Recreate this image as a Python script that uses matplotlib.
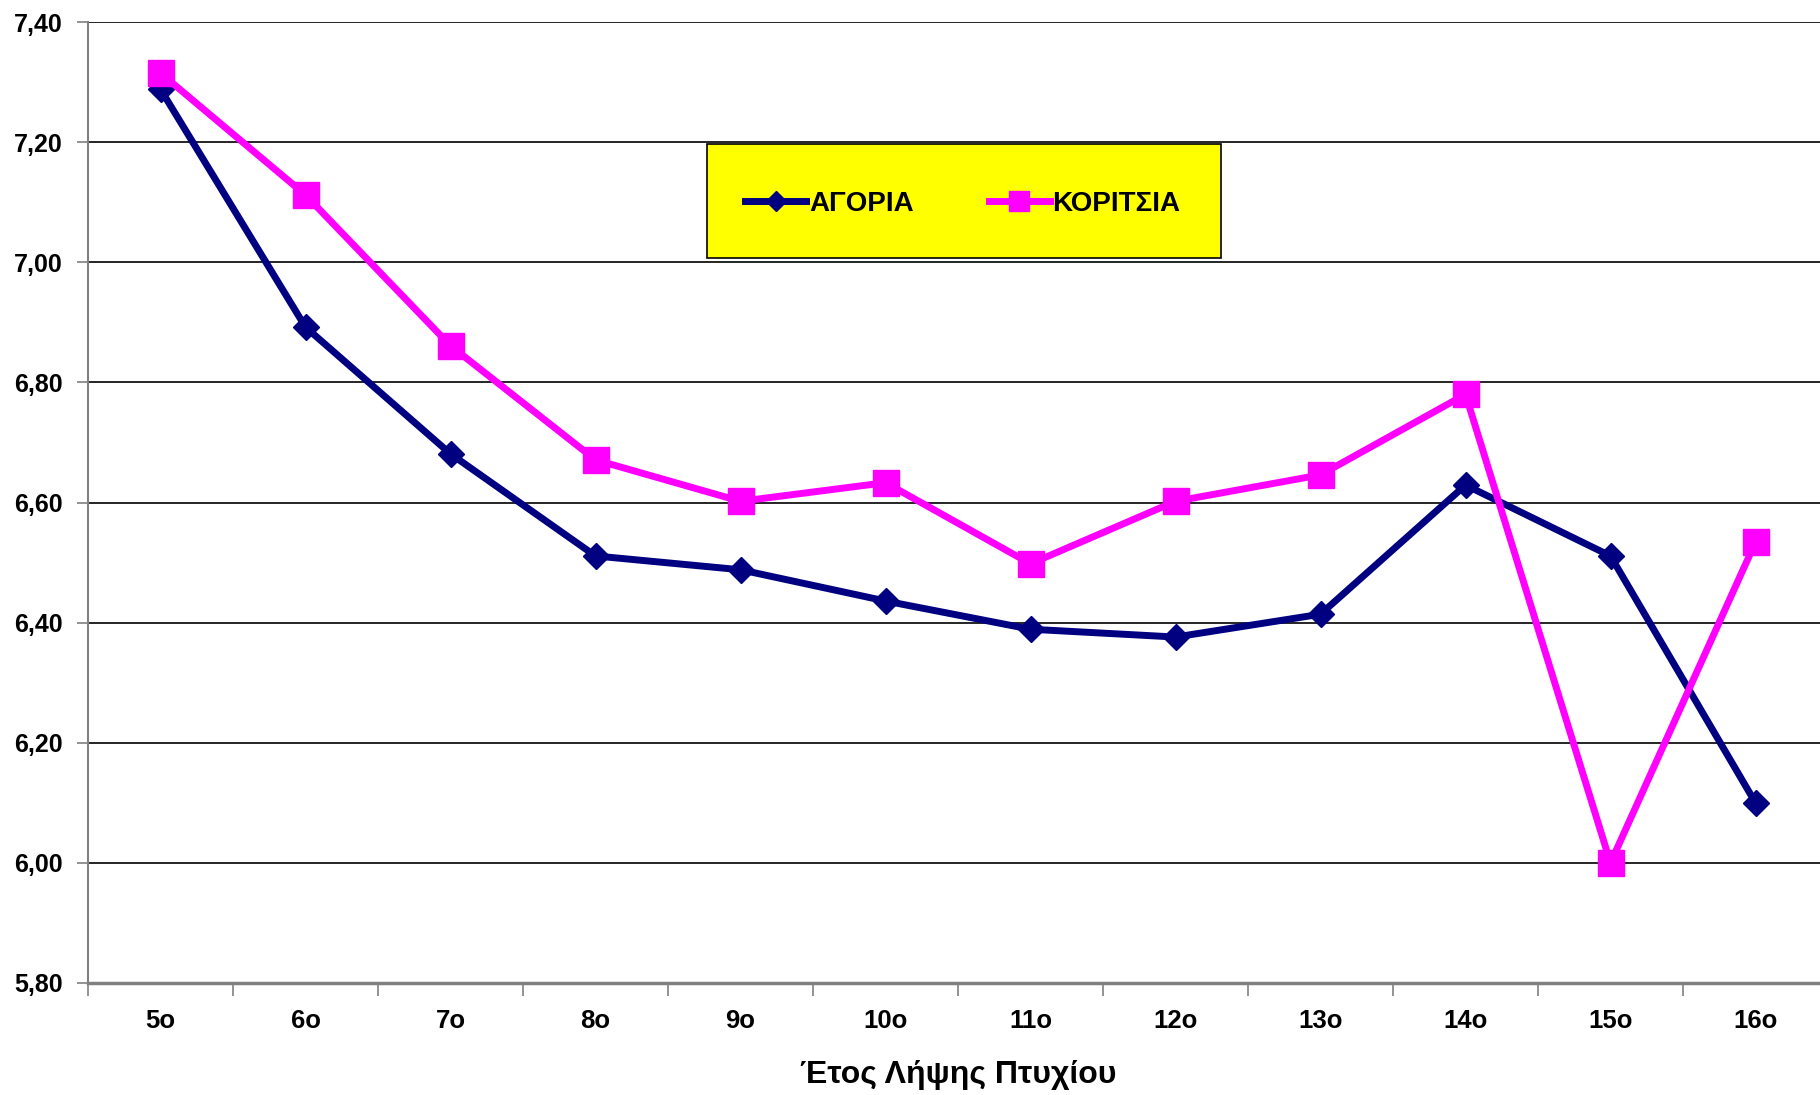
import matplotlib.pyplot as plt
from matplotlib.patches import Rectangle
from matplotlib.ticker import FixedLocator

plt.rcParams["font.family"] = ["Liberation Sans", "DejaVu Sans"]
plt.rcParams["font.weight"] = "bold"

YEARS = ["5o", "6o", "7o", "8o", "9o", "10o", "11o", "12o", "13o", "14o", "15o", "16o"]
BOYS = [7.288, 6.892, 6.681, 6.511, 6.488, 6.436, 6.389, 6.376, 6.414, 6.629, 6.511, 6.100]
GIRLS = [7.315, 7.112, 6.861, 6.671, 6.602, 6.633, 6.498, 6.602, 6.646, 6.780, 6.000, 6.534]
Y_TICKS = [5.80, 6.00, 6.20, 6.40, 6.60, 6.80, 7.00, 7.20, 7.40]

W, H = 1820, 1095
fig = plt.figure(figsize=(W / 100, H / 100), dpi=100)
# plot area runs a little past the right edge of the picture, as in the original
ax = fig.add_axes([88 / W, 1 - 983 / H, (1828 - 88) / W, (983 - 22) / H])

x = list(range(len(YEARS)))
ax.plot(x, BOYS, color="#000080", lw=5, marker="D", ms=13.5, label="ΑΓΟΡΙΑ",
        solid_joinstyle="miter", zorder=3)
ax.plot(x, GIRLS, color="#FF00FF", lw=5, marker="s", ms=19, label="ΚΟΡΙΤΣΙΑ",
        solid_joinstyle="miter", zorder=3)

ax.set_xlim(-0.5, len(YEARS) - 0.5)
ax.set_ylim(5.80, 7.40)
ax.set_yticks(Y_TICKS)
ax.set_yticklabels([f"{v:.2f}".replace(".", ",") for v in Y_TICKS], fontsize=18, fontweight="bold")
ax.yaxis.grid(True, color="black", lw=1.2)
ax.set_axisbelow(True)

# category labels centred, tick marks on the boundaries
ax.set_xticks(x)
ax.set_xticklabels(YEARS, fontsize=18.5, fontweight="bold")
ax.tick_params(axis="x", which="major", length=0, pad=19)
ax.xaxis.set_minor_locator(FixedLocator([i - 0.5 for i in range(len(YEARS) + 1)]))
ax.tick_params(axis="x", which="minor", length=9, width=1.2, color="#808080", direction="out")
ax.tick_params(axis="y", length=8, width=1.2, color="#808080", pad=10)

for side in ["top", "right"]:
    ax.spines[side].set_visible(False)
ax.spines["left"].set_color("#808080")
ax.spines["left"].set_linewidth(1.5)
ax.spines["bottom"].set_color("#808080")
ax.spines["bottom"].set_linewidth(2.5)

ax.set_xlabel("Έτος Λήψης Πτυχίου", fontsize=23, fontweight="bold", labelpad=19)

# legend box
fig.patches.append(Rectangle((707 / W, 1 - 258 / H), (1221 - 707) / W, (258 - 144) / H,
                             transform=fig.transFigure, facecolor="#FFFF00",
                             edgecolor="black", lw=1.2, zorder=5))
leg = fig.legend(loc="center left", bbox_to_anchor=(745 / W, 1 - 204 / H), ncol=2,
                 frameon=False, prop={"size": 20, "weight": "bold"}, borderpad=0,
                 borderaxespad=0, handlelength=2.2, handletextpad=0.1,
                 columnspacing=2.7, markerscale=0.75)
leg.set_zorder(6)

fig.savefig("out.png", dpi=100)
